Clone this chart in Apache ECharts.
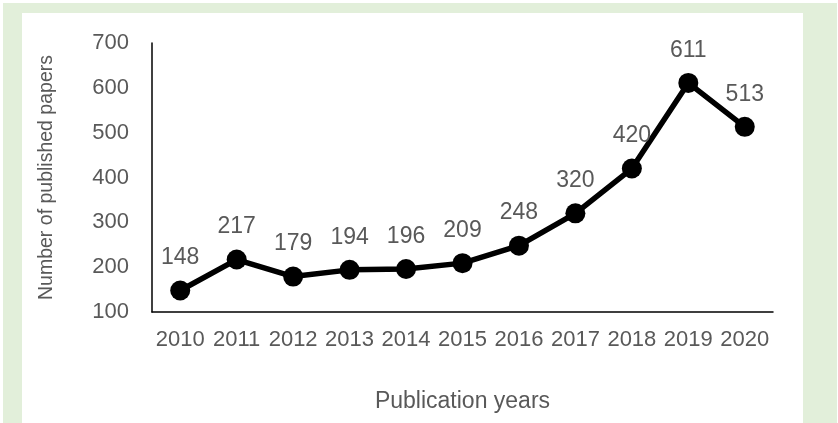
<!DOCTYPE html>
<html>
<head>
<meta charset="utf-8">
<script src="https://cdn.jsdelivr.net/npm/echarts@6/dist/echarts.min.js"></script>
<style>
html,body{margin:0;padding:0;background:#fff;}
#c{width:838px;height:423px;}
</style>
</head>
<body>
<div id="c"></div>
<script>
const years = ['2010','2011','2012','2013','2014','2015','2016','2017','2018','2019','2020'];
const papers = [148, 217, 179, 194, 196, 209, 248, 320, 420, 611, 513];
const yMin = 100, yMax = 700, yStep = 100;
const xTitle = 'Publication years';
const yTitle = 'Number of published papers';

const chart = echarts.init(document.getElementById('c'), null, {renderer: 'canvas'});
const txt = '#595959';
const font = 'Liberation Sans, Arial, sans-serif';
chart.setOption({
  backgroundColor: '#ffffff',
  animation: false,
  graphic: [
    {type: 'rect', z: -10, shape: {x: 3, y: 3, width: 834, height: 420}, style: {fill: '#e2efda'}},
    {type: 'rect', z: -9, shape: {x: 22, y: 13, width: 781, height: 420}, style: {fill: '#ffffff'}}
  ],
  grid: {left: 152, right: 65, top: 43, bottom: 111, containLabel: false},
  xAxis: {
    type: 'category',
    data: years,
    boundaryGap: true,
    name: xTitle,
    nameLocation: 'middle',
    nameGap: 78,
    nameTextStyle: {color: txt, fontSize: 23, fontFamily: font},
    axisLine: {lineStyle: {color: '#000', width: 1.5}},
    axisTick: {show: false},
    axisLabel: {color: txt, fontSize: 22, fontFamily: font, margin: 17, interval: 0}
  },
  yAxis: {
    type: 'value',
    min: yMin, max: yMax, interval: yStep,
    name: yTitle,
    nameLocation: 'middle',
    nameGap: 95,
    nameTextStyle: {color: txt, fontSize: 19.5, fontFamily: font},
    axisLine: {show: true, lineStyle: {color: '#000', width: 1.5}},
    axisTick: {show: false},
    splitLine: {show: false},
    axisLabel: {color: txt, fontSize: 22, fontFamily: font, margin: 23}
  },
  series: [{
    type: 'line',
    data: papers,
    symbol: 'circle',
    symbolSize: 20,
    lineStyle: {color: '#000', width: 5.5},
    itemStyle: {color: '#000'},
    label: {show: true, position: 'top', distance: 11, color: txt, fontSize: 23, fontFamily: font}
  }]
});
</script>
</body>
</html>
